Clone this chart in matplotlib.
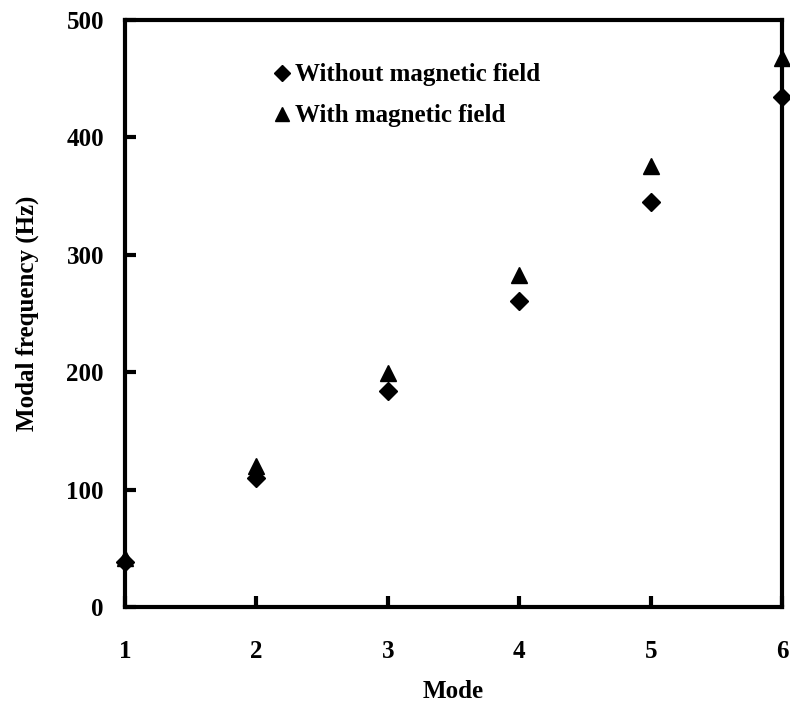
import matplotlib.pyplot as plt

plt.rcParams['font.family'] = ['Liberation Serif', 'DejaVu Serif']
plt.rcParams['font.weight'] = 'bold'

modes = [1, 2, 3, 4, 5, 6]
without_field = [38, 110, 184, 261, 345, 434]
with_field = [42, 120, 199, 283, 376, 468]

fig = plt.figure(figsize=(7.9, 7.03), dpi=100)
ax = fig.add_axes([0.158, 0.1366, 0.832, 0.835])

ax.plot(modes, without_field, 'D', color='black', markersize=9, clip_on=False,
        zorder=5, label='Without magnetic field')
ax.plot(modes, with_field, '^', color='black', markersize=12, clip_on=False,
        zorder=5, label='With magnetic field')

ax.set_xlim(1, 6)
ax.set_ylim(0, 500)
ax.set_xticks(modes)
ax.set_yticks([0, 100, 200, 300, 400, 500])

for s in ax.spines.values():
    s.set_linewidth(3)
ax.tick_params(direction='in', length=8, width=3, labelsize=18)
ax.tick_params(axis='y', pad=15)
ax.tick_params(axis='x', pad=24)

ax.set_xlabel('Mode', fontsize=18, fontweight='bold', labelpad=12)
ax.set_ylabel('Modal frequency (Hz)', fontsize=18, fontweight='bold', labelpad=20)

ax.legend(loc='upper left', bbox_to_anchor=(0.205, 0.943), frameon=False,
          fontsize=18, handletextpad=0.0, handlelength=1.0, labelspacing=0.72,
          markerscale=0.85, borderaxespad=0)

plt.savefig('out.png', dpi=100)
